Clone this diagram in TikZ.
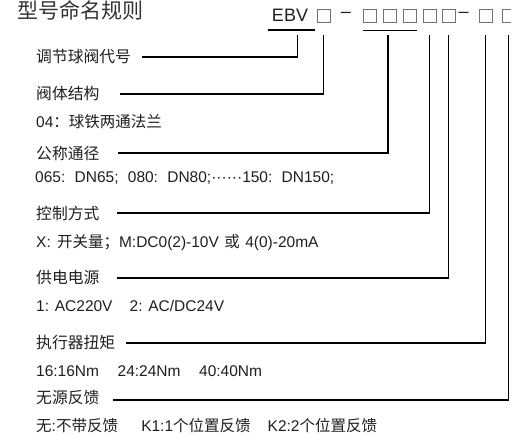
\documentclass[tikz,border=0pt]{standalone}
\usepackage{fontspec}
\setmainfont{Liberation Sans}
\newfontfamily\cjk{Noto Sans CJK SC}
\usetikzlibrary{positioning, calc}
\newcommand{\zhtxt}[1]{{\cjk #1}}

\begin{document}
\begin{tikzpicture}[x=1pt, y=-1pt,
  partname/.style={anchor=west, inner sep=0pt, font=\cjk\fontsize{15.8}{18}\selectfont, text=black!88},
  partopt/.style={anchor=west, inner sep=0pt, font=\fontsize{15.5}{18}\selectfont, text=black!88},
  codebox/.style={draw=black!55, line width=0.7pt, minimum size=13pt, inner sep=0pt},
  codetxt/.style={inner sep=0pt, font=\fontsize{18}{20}\selectfont, text=black!88},
  lnk/.style={line width=1.3pt, black}]
\clip (0,0) rectangle (511,436);

% Title and model code
\node[anchor=west, inner sep=0pt, font=\cjk\fontsize{21}{24}\selectfont, text=black!80] (title) at (17,10) {型号命名规则};
\node[codetxt] (ebv) at (290,15) {EBV};
\node[codebox] (bx1) at (323.5,15.5) {};
\node[codetxt] (d1) at (346,15) {\textendash};
\foreach \i/\x in {2/370, 3/390, 4/410, 5/429.5, 6/448.5}
  \node[codebox] (bx\i) at (\x,15.5) {};
\node[codetxt] (d2) at (463.5,15) {\textendash};
\node[codebox] (bx7) at (485.5,15.5) {};
\node[codebox] (bx8) at (508.5,15.5) {};

% Underlines
\draw[lnk] ([xshift=-4pt,yshift=-8.5pt]ebv.south west) -- ([xshift=7pt,yshift=-8.5pt]ebv.south east);
\draw[lnk] ([yshift=-8pt]bx2.south west) -- ([yshift=-8pt]bx4.south east);

% Upper ends of the leaders
\coordinate (t1) at ([xshift=-11pt,yshift=-13.5pt]ebv.south east);
\coordinate (t2) at ([yshift=-13pt]bx1.south);
\coordinate (t3) at ([xshift=-2pt,yshift=-13pt]bx3.south);
\coordinate (t4) at ([yshift=-13pt]bx5.south);
\coordinate (t5) at ([yshift=-13pt]bx6.south);
\coordinate (t6) at ([yshift=-13pt]bx7.south);
\coordinate (t7) at ([yshift=-13pt]bx8.south);

% Part names and options
\node[partname] (p1) at (36,57) {调节球阀代号};
\node[partname] (p2) at (36,93) {阀体结构};
\node[partopt] (o2) at (36,122) {04\zhtxt{：球铁两通法兰}};
\node[partname] (p3) at (36,154) {公称通径};
\node[partopt] (o3) at (35,178) {065:\hspace{.6em}DN65;\hspace{.6em}080:\hspace{.6em}DN80;······150:\hspace{.6em}DN150;};
\node[partname] (p4) at (36,213) {控制方式};
\node[partopt] (o4) at (36,243) {X:\hspace{.4em}\zhtxt{开关量；}M:DC0(2)-10V\hspace{.35em}\zhtxt{或}\hspace{.35em}4(0)-20mA};
\node[partname] (p5) at (36,278) {供电电源};
\node[partopt] (o5) at (36,306) {1: AC220V\hspace{1.1em}2: AC/DC24V};
\node[partname] (p6) at (36,343) {执行器扭矩};
\node[partopt] (o6) at (36,371) {16:16Nm\hspace{1.2em}24:24Nm\hspace{1.2em}40:40Nm};
\node[partname] (p7) at (36,398) {无源反馈};
\node[partopt] (o7) at (36,426) {\zhtxt{无}:\zhtxt{不带反馈}\hspace{1.5em}K1:1\zhtxt{个位置反馈}\hspace{1.1em}K2:2\zhtxt{个位置反馈}};

% Leaders from code to names
\draw[lnk] (t1) |- ([xshift=11pt]p1.east);
\draw[lnk] (t2) |- ([xshift=20pt,yshift=-1pt]p2.east);
\draw[lnk] (t3) |- ([xshift=18pt,yshift=1pt]p3.east);
\draw[lnk] (t4) |- ([xshift=17pt]p4.east);
\draw[lnk] (t5) |- ([xshift=17pt]p5.east);
\draw[lnk] (t6) |- ([xshift=11pt]p6.east);
\draw[lnk] (t7) |- ([xshift=13pt,yshift=-2pt]p7.east);
\end{tikzpicture}
\end{document}
